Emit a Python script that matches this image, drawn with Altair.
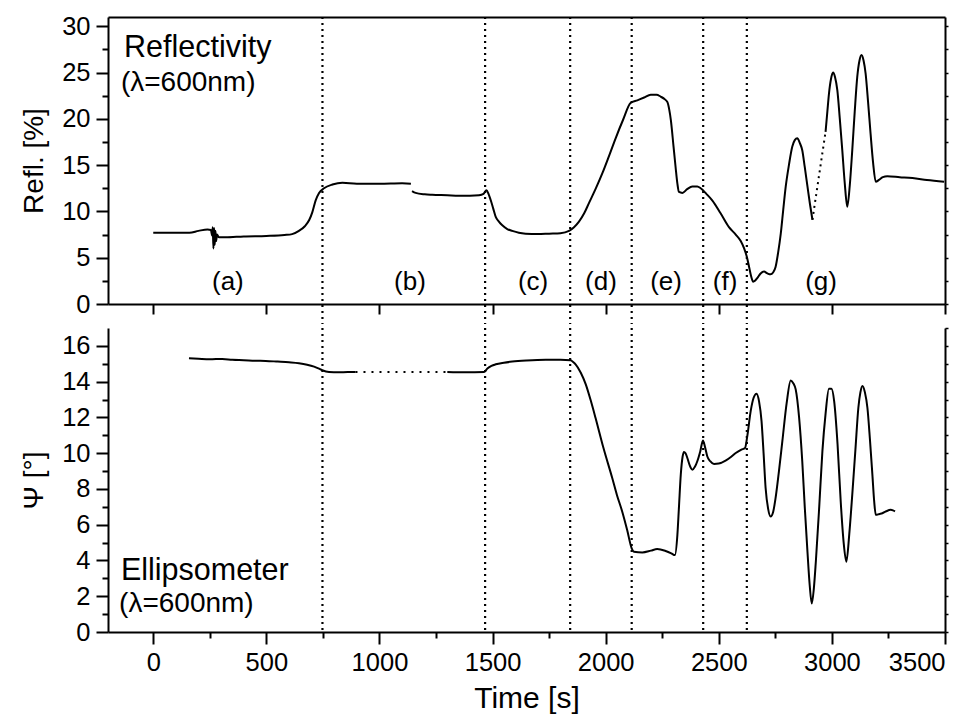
import altair as alt
import pandas as pd

# ---------------- data ----------------
# Reflectivity, three solid segments + one dotted connector
refl_t_a = [0, 100, 160, 200, 240, 255, 260, 263, 266, 269, 272, 275, 278, 282, 290, 320, 400, 500, 580,
            614, 644, 670, 690, 703, 718, 733, 755, 792, 836, 900, 1000, 1100, 1139]
refl_v_a = [7.7, 7.7, 7.7, 7.9, 8.05, 8.0, 7.4, 8.3, 6.0, 8.2, 6.4, 7.9, 6.8, 7.5, 7.2, 7.2, 7.3, 7.35, 7.45,
            7.55, 7.9, 8.4, 9.1, 9.9, 11.2, 12.0, 12.5, 12.9, 13.1, 13.0, 13.0, 13.05, 13.0]
refl_t_b = [1144, 1160, 1200, 1233, 1300, 1350, 1400, 1440, 1460, 1473, 1482, 1492, 1503, 1514, 1528, 1543,
            1565, 1587, 1616, 1646, 1700, 1750, 1800, 1838, 1860, 1882, 1905, 1926, 1955, 1985, 2015, 2044,
            2077, 2110, 2140, 2170, 2199, 2225, 2243, 2262, 2273, 2281, 2288, 2300, 2309, 2317, 2324, 2339,
            2360, 2383, 2405, 2420, 2445, 2471, 2508, 2545, 2575, 2597, 2612, 2625, 2634, 2643, 2652, 2660,
            2670, 2685, 2700, 2715, 2729, 2740, 2751, 2762, 2774, 2785, 2796, 2810, 2825, 2836, 2847, 2858,
            2869, 2880, 2892, 2903, 2914]
refl_v_b = [12.2, 12.0, 11.85, 11.8, 11.75, 11.7, 11.7, 11.75, 11.9, 12.3, 11.9, 11.2, 10.3, 9.4, 8.9, 8.5,
            8.1, 7.9, 7.7, 7.6, 7.55, 7.6, 7.65, 7.9, 8.3, 8.9, 9.8, 10.9, 12.4, 14.1, 16.0, 17.9,
            19.9, 21.7, 22.0, 22.3, 22.6, 22.6, 22.4, 22.1, 21.8, 21.0, 19.9, 17.0, 14.8, 13.0, 12.1, 12.0,
            12.4, 12.7, 12.7, 12.5, 11.9, 11.2, 9.8, 8.3, 7.5, 6.8, 6.0, 5.0, 4.0, 3.0, 2.4, 2.5,
            2.8, 3.3, 3.5, 3.3, 3.2, 3.4, 4.0, 5.5, 7.6, 10.2, 12.7, 15.0, 17.0, 17.7, 17.9, 17.4,
            16.6, 14.8, 12.7, 10.8, 9.1]
refl_t_c = [2972, 2980, 2987, 2996, 3005, 3014, 3024, 3035, 3046, 3057, 3068, 3079, 3090, 3101, 3112, 3122,
            3131, 3140, 3149, 3160, 3171, 3182, 3194, 3208, 3225, 3245, 3300, 3356, 3420, 3496]
refl_v_c = [18.6, 20.8, 22.7, 24.3, 25.0, 24.5, 23.1, 20.0, 16.6, 13.0, 10.5, 12.8, 16.6, 20.8, 24.5, 26.3,
            26.9, 26.3, 24.9, 21.8, 18.4, 15.3, 13.2, 13.4, 13.7, 13.8, 13.7, 13.6, 13.4, 13.2]
refl_gap_t = [2914, 2972]
refl_gap_v = [9.1, 18.6]

# Ellipsometer Psi, two solid segments + dotted gap
psi_t_a = [158, 200, 250, 305, 350, 400, 450, 497, 550, 600, 644, 680, 711, 730, 747, 777, 820, 860, 894]
psi_v_a = [15.31, 15.28, 15.25, 15.27, 15.22, 15.2, 15.17, 15.16, 15.12, 15.08, 15.03, 14.95, 14.84, 14.74,
           14.64, 14.54, 14.52, 14.54, 14.54]
psi_t_b = [1300, 1380, 1462, 1477, 1495, 1514, 1550, 1587, 1650, 1735, 1800, 1845, 1856, 1867, 1890, 1912,
           1935, 1955, 1990, 2029, 2050, 2073, 2095, 2115, 2125, 2162, 2200, 2228, 2265, 2290, 2306, 2317,
           2324, 2332, 2340, 2346, 2353, 2361, 2372, 2383, 2395, 2405, 2418, 2430, 2440, 2449, 2462, 2479,
           2500, 2530, 2555, 2575, 2600, 2616, 2626, 2641, 2654, 2667, 2678, 2689, 2698, 2707, 2718, 2729,
           2740, 2751, 2766, 2781, 2800, 2818, 2830, 2840, 2855, 2869, 2880, 2892, 2902, 2911, 2920, 2929,
           2944, 2958, 2972, 2987, 2998, 3010, 3025, 3039, 3052, 3064, 3077, 3090, 3104, 3117, 3126, 3135,
           3146, 3157, 3168, 3179, 3187, 3194, 3210, 3223, 3240, 3260, 3270, 3279]
psi_v_b = [14.54, 14.52, 14.54, 14.73, 14.88, 14.97, 15.06, 15.12, 15.18, 15.22, 15.22, 15.2, 15.1, 14.97,
           14.5, 13.85, 12.9, 11.98, 10.3, 8.61, 7.65, 6.74, 5.7, 4.68, 4.49, 4.45, 4.55, 4.64, 4.53, 4.4,
           4.3, 5.43, 7.0, 8.8, 9.8, 10.07, 10.0, 9.73, 9.3, 9.08, 9.25, 9.55, 10.1, 10.71, 10.3, 9.83, 9.55,
           9.4, 9.42, 9.58, 9.8, 10.01, 10.2, 10.29, 10.95, 12.35, 13.1, 13.33, 12.9, 11.79, 10.0, 8.05, 6.9,
           6.46, 6.7, 7.49, 9.0, 10.67, 12.8, 14.07, 13.9, 13.57, 12.0, 9.55, 7.0, 4.49, 2.6, 1.59, 2.4, 3.93,
           7.0, 10.1, 12.2, 13.6, 13.6, 12.91, 10.5, 7.3, 5.0, 3.93, 5.5, 7.67, 10.2, 12.54, 13.4, 13.76,
           13.4, 12.54, 10.8, 8.8, 7.3, 6.55, 6.6, 6.64, 6.75, 6.83, 6.8, 6.74]
psi_gap_t = [894, 1300]
psi_gap_v = [14.54, 14.54]

# phase boundaries and labels
divider_t = [748, 1467, 1843, 2115, 2431, 2624]
region_labels = ["(a)", "(b)", "(c)", "(d)", "(e)", "(f)", "(g)"]
region_t = [330, 1135, 1679, 1979, 2267, 2528, 2952]
region_v = [1.5] * 7

# annotation texts with their anchor in data units
refl_head = ["Reflectivity"]
refl_head_t, refl_head_v = [-129], [26.65]
refl_sub = ["(λ=600nm)"]
refl_sub_t, refl_sub_v = [-143], [23.0]
psi_head = ["Ellipsometer"]
psi_head_t, psi_head_v = [-143], [2.9]
psi_sub = ["(λ=600nm)"]
psi_sub_t, psi_sub_v = [-151], [1.12]

# axis ticks
x_major = [0, 500, 1000, 1500, 2000, 2500, 3000, 3500]
x_minor = [250, 750, 1250, 1750, 2250, 2750, 3250]
refl_major = [0, 5, 10, 15, 20, 25, 30]
refl_minor = [2.5, 7.5, 12.5, 17.5, 22.5, 27.5]
refl_right = [0, 2.5, 5, 7.5, 10, 12.5, 15, 17.5, 20, 22.5, 25, 27.5, 30]
psi_major = [0, 2, 4, 6, 8, 10, 12, 14, 16]
psi_minor = [1, 3, 5, 7, 9, 11, 13, 15]
psi_right = list(range(0, 18))

# ---------------- build tables ----------------
def seg_df(parts):
    rows = []
    for k, (ts, vs) in enumerate(parts):
        for t, v in zip(ts, vs):
            rows.append({"t": t, "v": v, "seg": k})
    return pd.DataFrame(rows)

refl_df = seg_df([(refl_t_a, refl_v_a), (refl_t_b, refl_v_b), (refl_t_c, refl_v_c)])
refl_gap_df = pd.DataFrame({"t": refl_gap_t, "v": refl_gap_v})
psi_df = seg_df([(psi_t_a, psi_v_a), (psi_t_b, psi_v_b)])
psi_gap_df = pd.DataFrame({"t": psi_gap_t, "v": psi_gap_v})
div_df = pd.DataFrame({"t": divider_t})
lab_df = pd.DataFrame({"t": region_t, "v": region_v, "label": region_labels})

def txt_df(texts, ts, vs):
    return pd.DataFrame({"t": ts, "v": vs, "text": texts})

FONT = "Liberation Sans"
W, H1, H2, GAP = 837, 287, 304, 20
HEAD_FS, SUB_FS = 30.5, 28
DIV_W = 2.2

xscale = alt.Scale(domain=[-200, 3500], nice=False, zero=False)
y1scale = alt.Scale(domain=[0, 31], nice=False, zero=True)
y2scale = alt.Scale(domain=[0, 17], nice=False, zero=True)

def ax(**kw):
    base = dict(grid=False, title=None, domainColor="black", tickColor="black",
                domainWidth=2, tickWidth=2, labelColor="black", format="d")
    base.update(kw)
    return alt.Axis(**base)

# ---------------- top panel ----------------
top_line = alt.Chart(refl_df).mark_line(color="black", strokeWidth=2, interpolate="monotone").encode(
    x=alt.X("t:Q", scale=xscale, axis=ax(orient="bottom", values=x_major, labels=False, tickSize=10)),
    y=alt.Y("v:Q", scale=y1scale, axis=ax(orient="left", values=refl_major, tickSize=12, labelPadding=6,
                                          title="Refl. [%]", titlePadding=13)),
    detail="seg:N",
)
top_gap = alt.Chart(refl_gap_df).mark_line(color="black", strokeWidth=2, strokeDash=[2, 4]).encode(
    x=alt.X("t:Q", scale=xscale, axis=None),
    y=alt.Y("v:Q", scale=y1scale, axis=None),
)
top_div = alt.Chart(div_df).mark_rule(color="black", strokeWidth=DIV_W, strokeDash=[2, 4]).encode(
    x=alt.X("t:Q", scale=xscale, axis=None),
    y=alt.value(0),
    y2=alt.value(H1 + GAP),
)
top_labels = alt.Chart(lab_df).mark_text(font=FONT, fontSize=26, align="center", baseline="alphabetic",
                                         color="black").encode(
    x=alt.X("t:Q", scale=xscale, axis=ax(orient="top", labels=False, ticks=False)),
    y=alt.Y("v:Q", scale=y1scale, axis=ax(orient="left", values=refl_minor, labels=False, domain=False,
                                          tickSize=6)),
    text="label:N",
)
top_head = alt.Chart(txt_df(refl_head, refl_head_t, refl_head_v)).mark_text(
    font=FONT, fontSize=HEAD_FS, align="left", baseline="alphabetic", color="black").encode(
    x=alt.X("t:Q", scale=xscale, axis=None),
    y=alt.Y("v:Q", scale=y1scale, axis=ax(orient="right", values=refl_right, labels=False, tickSize=3,
                                          tickWidth=1.5)),
    text="text:N",
)
top_sub = alt.Chart(txt_df(refl_sub, refl_sub_t, refl_sub_v)).mark_text(
    font=FONT, fontSize=SUB_FS, align="left", baseline="alphabetic", color="black").encode(
    x=alt.X("t:Q", scale=xscale, axis=None),
    y=alt.Y("v:Q", scale=y1scale, axis=None),
    text="text:N",
)
top = alt.layer(top_line, top_gap, top_div, top_labels, top_head, top_sub).resolve_axis(
    x="independent", y="independent").properties(width=W, height=H1)

# ---------------- bottom panel ----------------
bot_line = alt.Chart(psi_df).mark_line(color="black", strokeWidth=2, interpolate="monotone").encode(
    x=alt.X("t:Q", scale=xscale, axis=ax(orient="bottom", values=x_major, tickSize=12, labelPadding=6,
                                         title="Time [s]", titlePadding=8, titleFontSize=30)),
    y=alt.Y("v:Q", scale=y2scale, axis=ax(orient="left", values=psi_major, tickSize=12, labelPadding=6,
                                          title="Ψ [°]", titlePadding=13)),
    detail="seg:N",
)
bot_gap = alt.Chart(psi_gap_df).mark_line(color="black", strokeWidth=2, strokeDash=[2, 6]).encode(
    x=alt.X("t:Q", scale=xscale, axis=ax(orient="bottom", values=x_minor, labels=False, domain=False,
                                         tickSize=6)),
    y=alt.Y("v:Q", scale=y2scale, axis=ax(orient="left", values=psi_minor, labels=False, domain=False,
                                          tickSize=6)),
)
bot_div = alt.Chart(div_df).mark_rule(color="black", strokeWidth=DIV_W, strokeDash=[2, 4]).encode(
    x=alt.X("t:Q", scale=xscale, axis=None),
)
bot_head = alt.Chart(txt_df(psi_head, psi_head_t, psi_head_v)).mark_text(
    font=FONT, fontSize=HEAD_FS, align="left", baseline="alphabetic", color="black").encode(
    x=alt.X("t:Q", scale=xscale, axis=None),
    y=alt.Y("v:Q", scale=y2scale, axis=ax(orient="right", values=psi_right, labels=False, tickSize=3,
                                          tickWidth=1.5)),
    text="text:N",
)
bot_sub = alt.Chart(txt_df(psi_sub, psi_sub_t, psi_sub_v)).mark_text(
    font=FONT, fontSize=SUB_FS, align="left", baseline="alphabetic", color="black").encode(
    x=alt.X("t:Q", scale=xscale, axis=None),
    y=alt.Y("v:Q", scale=y2scale, axis=None),
    text="text:N",
)
bottom = alt.layer(bot_line, bot_gap, bot_div, bot_head, bot_sub).resolve_axis(
    x="independent", y="independent").properties(width=W, height=H2)

chart = alt.vconcat(top, bottom, spacing=0).properties(
    padding={"left": 12, "top": 6, "right": 5, "bottom": 5},
    background="white",
).configure_view(stroke=None).configure_axis(
    labelFont=FONT, titleFont=FONT, labelFontSize=25.5, titleFontSize=28,
    titleFontWeight="normal", titleColor="black", labelColor="black",
)

chart.save("out.html", embed_options={"renderer": "svg", "actions": False})
